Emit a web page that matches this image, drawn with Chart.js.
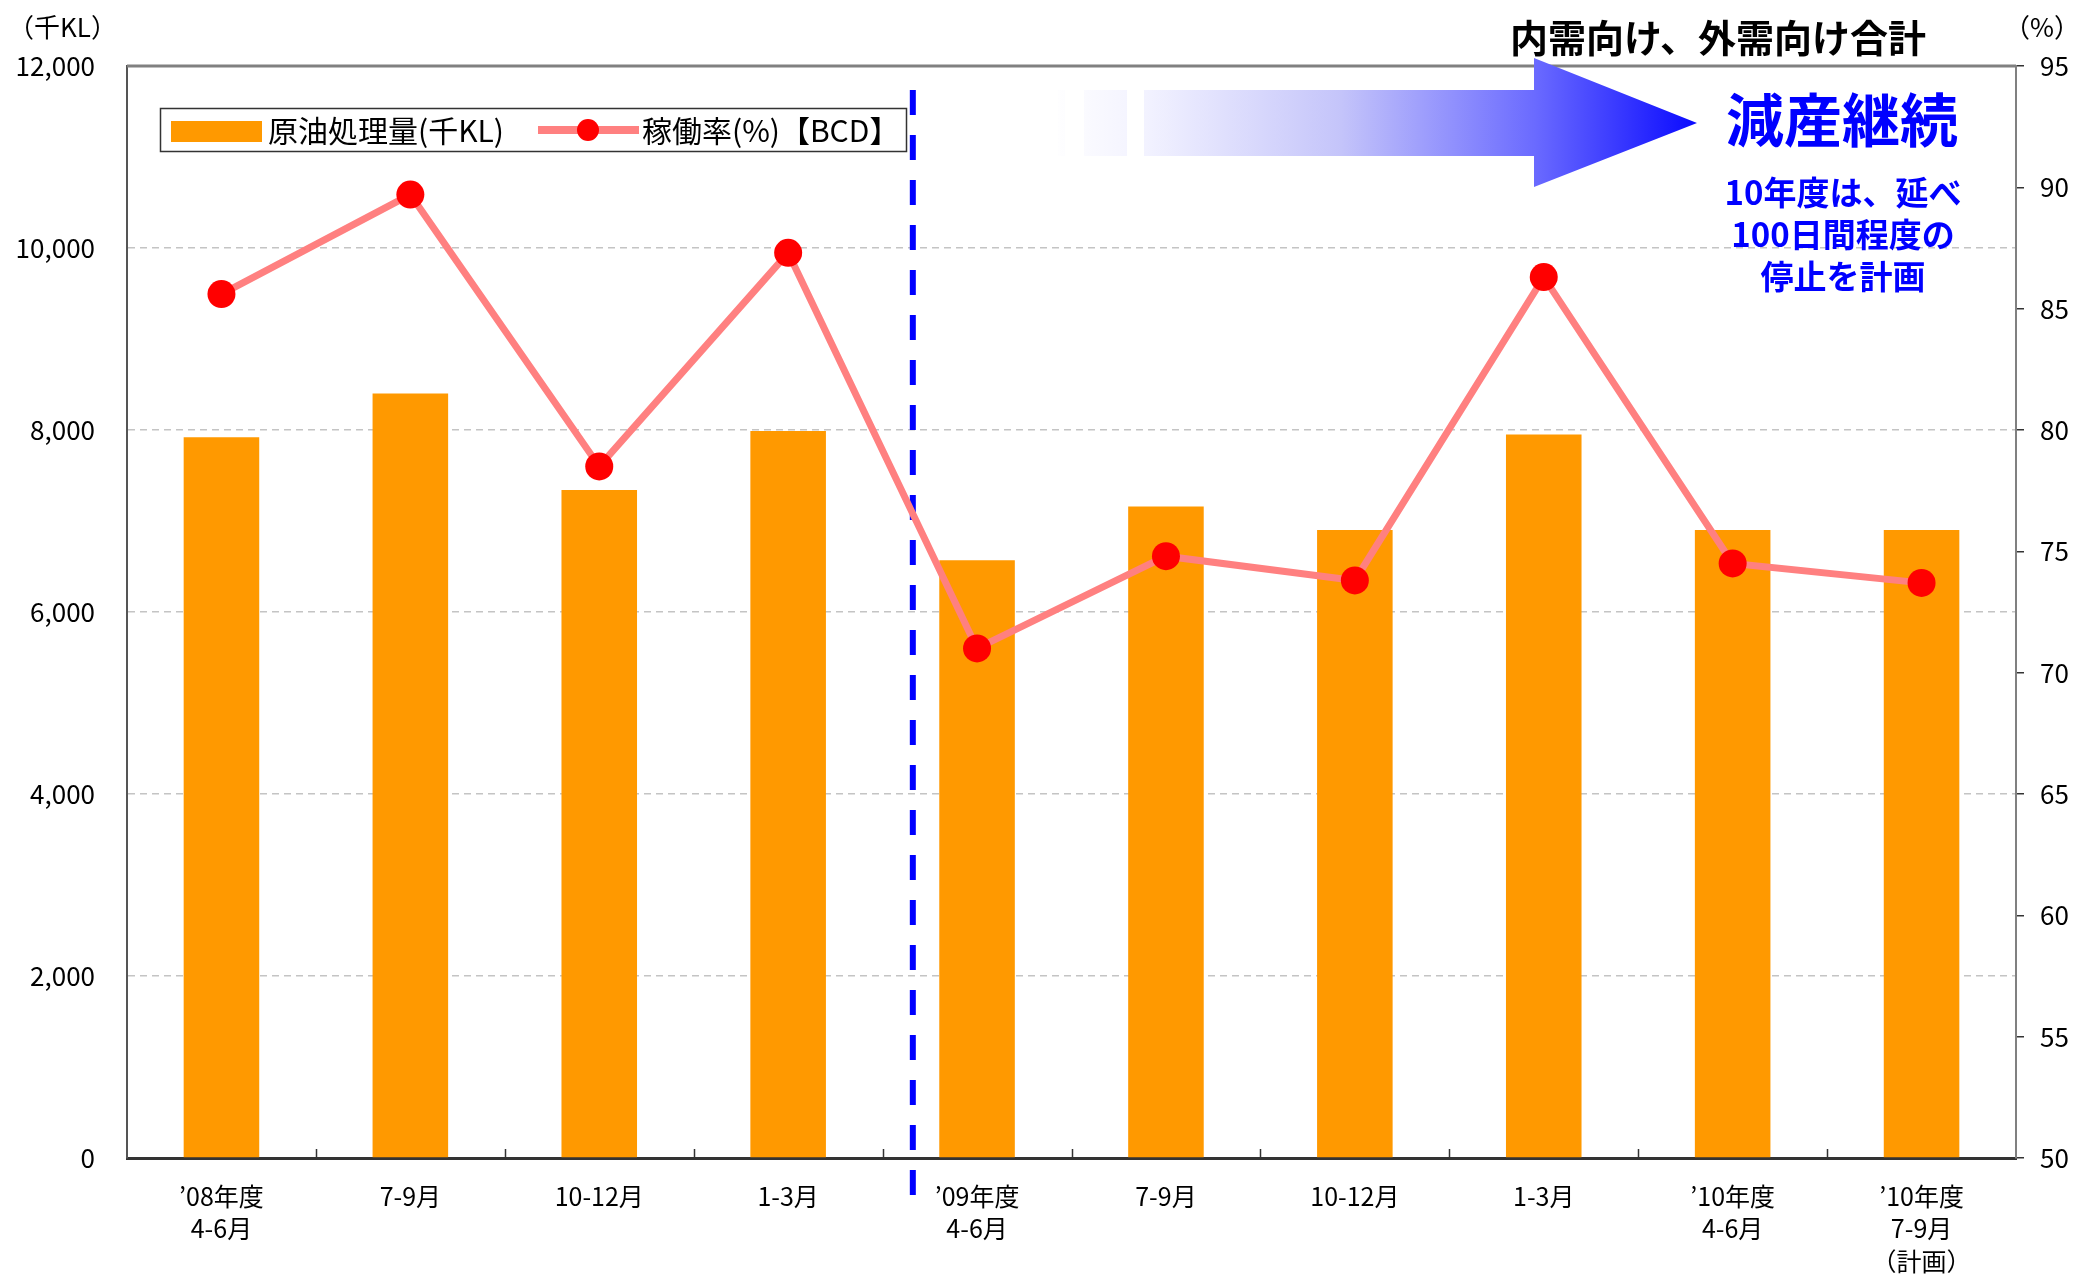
<!DOCTYPE html>
<html>
<head>
<meta charset="utf-8">
<script src="https://cdn.jsdelivr.net/npm/chart.js@4/dist/chart.umd.min.js"></script>
<style>
  html, body { margin: 0; padding: 0; background: #fff; }
  #wrap { width: 2076px; height: 1274px; }
</style>
</head>
<body>
<div id="wrap"><canvas id="chart"></canvas></div>
<script>
const FONT = '"Noto Sans CJK JP", "Noto Sans", sans-serif';

const categories = [
  ["’08年度", "4-6月"], "7-9月", "10-12月", "1-3月",
  ["’09年度", "4-6月"], "7-9月", "10-12月", "1-3月",
  ["’10年度", "4-6月"], ["’10年度", "7-9月", "（計画）"]
];
const crudeVolume = [7920, 8400, 7340, 7990, 6570, 7160, 6900, 7950, 6900, 6900];
const operatingRate = [85.6, 89.7, 78.5, 87.3, 71.0, 74.8, 73.8, 86.3, 74.5, 73.7];
const leftTicks = [0, 2000, 4000, 6000, 8000, 10000, 12000];
const rightTicks = [50, 55, 60, 65, 70, 75, 80, 85, 90, 95];

// divider between FY08 and FY09 (a bit right of the boundary, like the original)
const dividerAt = 3.66;

const decorations = {
  id: "decorations",
  beforeDatasetsDraw(chart) {
    const { ctx, chartArea: a, scales: { x } } = chart;
    ctx.save();
    // blue dashed divider
    const dx = x.getPixelForValue(dividerAt);
    ctx.strokeStyle = "#0000ff";
    ctx.lineWidth = 6;
    ctx.setLineDash([25, 20]);
    ctx.beginPath();
    ctx.moveTo(dx, a.top + 24);
    ctx.lineTo(dx, a.bottom + 42);
    ctx.stroke();
    ctx.restore();
  },
  afterDatasetsDraw(chart) {
    const { ctx, chartArea: a, scales: { x } } = chart;
    ctx.save();
    // top frame line
    ctx.strokeStyle = "#808080";
    ctx.lineWidth = 3;
    ctx.beginPath();
    ctx.moveTo(a.left, a.top);
    ctx.lineTo(a.right, a.top);
    ctx.stroke();
    // small inner tick marks between categories
    ctx.strokeStyle = "#333";
    ctx.lineWidth = 1.5;
    for (let i = 1; i < categories.length; i++) {
      const px = Math.round(x.getPixelForValue(i - 0.5)) + 0.5;
      ctx.beginPath();
      ctx.moveTo(px, a.bottom);
      ctx.lineTo(px, a.bottom - 9);
      ctx.stroke();
    }
    ctx.restore();
  },
  afterDraw(chart) {
    const { ctx } = chart;
    ctx.save();

    // gradient arrow
    const g = ctx.createLinearGradient(1050, 0, 1697, 0);
    g.addColorStop(0, "rgba(255,255,255,1)");
    g.addColorStop(0.15, "#f2f2ff");
    g.addColorStop(0.45, "#c4c4fa");
    g.addColorStop(0.75, "#6a6aff");
    g.addColorStop(1, "#0a0aff");
    ctx.fillStyle = g;
    ctx.fillRect(1058, 90, 7, 66);
    ctx.fillRect(1084, 90, 43, 66);
    ctx.beginPath();
    ctx.moveTo(1144, 90);
    ctx.lineTo(1534, 90);
    ctx.lineTo(1534, 58);
    ctx.lineTo(1697, 123);
    ctx.lineTo(1534, 187);
    ctx.lineTo(1534, 156);
    ctx.lineTo(1144, 156);
    ctx.closePath();
    ctx.fill();

    // annotations
    ctx.textAlign = "center";
    ctx.textBaseline = "middle";
    ctx.fillStyle = "#000";
    ctx.font = "bold 38px " + FONT;
    ctx.fillText("内需向け、外需向け合計", 1718, 38);

    ctx.fillStyle = "#0000ff";
    ctx.font = "bold 58px " + FONT;
    ctx.fillText("減産継続", 1842, 120);
    ctx.font = "bold 33px " + FONT;
    ctx.fillText("10年度は、延べ", 1843, 192);
    ctx.fillText("100日間程度の", 1843, 234);
    ctx.fillText("停止を計画", 1843, 276);

    // axis titles
    ctx.fillStyle = "#000";
    ctx.font = "26px " + FONT;
    ctx.textAlign = "left";
    ctx.fillText("（千KL）", 8, 27);
    ctx.fillText("（%）", 2004, 27);

    // legend
    const ds = chart.data.datasets;
    const bar = ds.find(d => d.type === "bar");
    const line = ds.find(d => d.type === "line");
    ctx.fillStyle = "#fff";
    ctx.fillRect(160, 108, 747, 44);
    ctx.strokeStyle = "#333";
    ctx.lineWidth = 1.5;
    ctx.strokeRect(160.5, 108.5, 746, 43);
    ctx.fillStyle = bar.backgroundColor;
    ctx.fillRect(171, 121, 91, 21);
    ctx.fillStyle = "#000";
    ctx.font = "30px " + FONT;
    ctx.textAlign = "left";
    ctx.fillText(bar.label, 268, 131);
    ctx.strokeStyle = line.borderColor;
    ctx.lineWidth = 8;
    ctx.beginPath();
    ctx.moveTo(538, 130);
    ctx.lineTo(639, 130);
    ctx.stroke();
    ctx.fillStyle = line.pointBackgroundColor;
    ctx.beginPath();
    ctx.arc(588, 130, 11, 0, Math.PI * 2);
    ctx.fill();
    ctx.fillStyle = "#000";
    ctx.fillText(line.label, 642, 131);

    ctx.restore();
  }
};

new Chart(document.getElementById("chart"), {
  data: {
    labels: categories,
    datasets: [
      {
        type: "bar",
        label: "原油処理量(千KL)",
        data: crudeVolume,
        yAxisID: "y",
        backgroundColor: "#ff9900",
        barPercentage: 0.4,
        categoryPercentage: 1.0,
        order: 2
      },
      {
        type: "line",
        label: "稼働率(%)【BCD】",
        data: operatingRate,
        yAxisID: "y1",
        borderColor: "#ff8080",
        borderWidth: 7,
        pointBackgroundColor: "#ff0000",
        pointBorderWidth: 0,
        pointRadius: 14,
        tension: 0,
        order: 1
      }
    ]
  },
  options: {
    responsive: true,
    maintainAspectRatio: false,
    animation: false,
    layout: { padding: { top: 66, left: 0, right: 0, bottom: 0 } },
    plugins: {
      legend: { display: false },
      tooltip: { enabled: false }
    },
    scales: {
      x: {
        offset: true,
        grid: { display: false },
        border: { color: "#333", width: 3 },
        ticks: {
          color: "#000",
          font: { family: FONT, size: 25, lineHeight: 1.3 },
          padding: 14,
          maxRotation: 0,
          autoSkip: false
        },
        afterFit(scale) { scale.height = 116; }
      },
      y: {
        position: "left",
        min: 0,
        max: 12000,
        afterBuildTicks(scale) { scale.ticks = leftTicks.map(v => ({ value: v })); },
        grid: {
          color: c => (c.tick && (c.tick.value === 0 || c.tick.value === 12000)) ? "rgba(0,0,0,0)" : "#c4c4c4",
          lineWidth: 1.5,
          drawTicks: false
        },
        border: { color: "#555", width: 2, dash: [7, 5] },
        ticks: {
          color: "#000",
          font: { family: FONT, size: 26 },
          padding: 32,
          callback: v => v.toLocaleString("en-US")
        },
        afterFit(scale) { scale.width = 127; }
      },
      y1: {
        position: "right",
        min: 50,
        max: 95,
        afterBuildTicks(scale) { scale.ticks = rightTicks.map(v => ({ value: v })); },
        grid: {
          drawOnChartArea: false,
          drawTicks: true,
          tickLength: 8,
          color: "#333",
          lineWidth: 1.5
        },
        border: { color: "#808080", width: 2 },
        ticks: {
          color: "#000",
          font: { family: FONT, size: 26 },
          padding: 16
        },
        afterFit(scale) { scale.width = 60; }
      }
    }
  },
  plugins: [decorations]
});
</script>
</body>
</html>
